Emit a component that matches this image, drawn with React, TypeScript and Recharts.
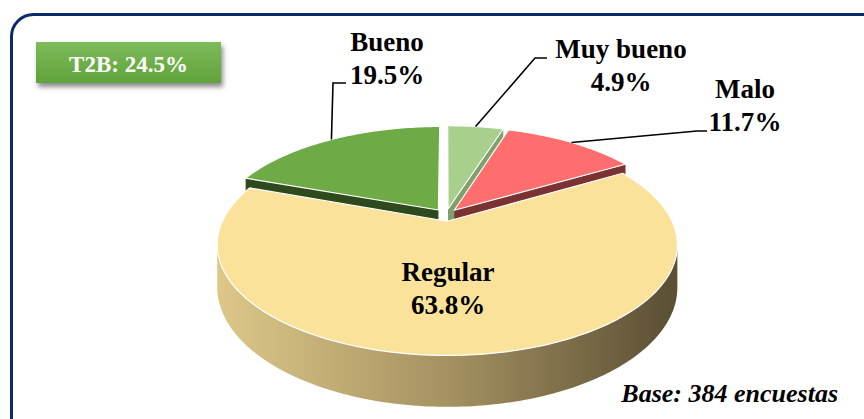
import React from 'react';
import { PieChart, Pie } from 'recharts';

const categories = ['Bueno', 'Muy bueno', 'Malo', 'Regular'];
const shares = [19.5, 4.9, 11.7, 63.8];
const t2bShare = 24.5;
const baseCount = 384;

const data = categories.map((name, i) => ({ name, value: shares[i] }));
const total = shares.reduce((s, v) => s + v, 0);
// Bueno ends at 12 o'clock, so Regular (front slice) is painted last
const START = 90 + (360 * shares[0]) / total;

const TOP: Record<string, string> = {
    Bueno: '#6eab46',
    'Muy bueno': '#a8cf8c',
    Malo: '#ff6e6e',
    Regular: '#fae29a',
};
const SIDE: Record<string, string> = {
    Bueno: '#2e4a1c',
    'Muy bueno': '#80a06a',
    Malo: '#7a3232',
    Regular: 'url(#wallRegular)',
};

// label text + leader layout
const LABELS: Record<string, { x: number; y: number; elbow?: [number, number]; end?: number }> = {
    Bueno: { x: 387, y: 51, elbow: [333, 83], end: 346 },
    'Muy bueno': { x: 621, y: 58, elbow: [535, 58], end: 547 },
    Malo: { x: 745, y: 98, elbow: [697, 131], end: 707 },
    Regular: { x: 448, y: 281 },
};

const FONT = 'Liberation Serif, Tinos, Times New Roman, DejaVu Serif, serif';

// fake 3D: tilted disc with a bit of perspective
const G = { cx: 446, cy: 215, rx: 222, ry: 103, persp: 0.21, depth: 40, explode: 0.06 };
const rad = (d: number) => (d * Math.PI) / 180;

function pt(phi: number, r: number, off: number[], h = 0) {
    const u = off[0] + r * Math.sin(rad(phi));
    const v = off[1] + r * Math.cos(rad(phi));
    const w = 1 + G.persp * v;
    return [G.cx + (G.rx * u) / w, G.cy - (G.ry * v) / w + (G.depth * h) / w];
}

function arc(a: number, b: number, off: number[], h: number) {
    const n = Math.max(2, Math.ceil(Math.abs(b - a)));
    const out: number[][] = [];
    for (let i = 0; i <= n; i++) out.push(pt(a + ((b - a) * i) / n, 1, off, h));
    return out;
}

const toPath = (pts: number[][]) =>
    'M' + pts.map((p) => `${p[0].toFixed(2)},${p[1].toFixed(2)}`).join('L') + 'Z';

function renderSlice(props: any) {
    const { startAngle, endAngle, name, value } = props;
    const a = 90 - Math.max(startAngle, endAngle);
    const b = 90 - Math.min(startAngle, endAngle);
    const m = (a + b) / 2;
    const off = [G.explode * Math.sin(rad(m)), G.explode * Math.cos(rad(m))];
    const side = SIDE[name];
    const top = TOP[name];

    const faces: React.ReactNode[] = [];
    const cutFace = (phi: number, key: string) => {
        const p0 = pt(0, 0, off, 0);
        const p1 = pt(phi, 1, off, 0);
        const p2 = pt(phi, 1, off, 1);
        const p3 = pt(0, 0, off, 1);
        faces.push(<path key={key} d={toPath([p0, p1, p2, p3])} fill={side} stroke="none" />);
    };
    if (Math.sin(rad(a)) < -0.02) cutFace(a, 'ca');
    if (Math.sin(rad(b)) > 0.02) cutFace(b, 'cb');

    // outer wall: only where it faces the viewer
    const lo = 90 + (Math.asin(G.persp) * 180) / Math.PI;
    const hi = 270 - (Math.asin(G.persp) * 180) / Math.PI;
    for (const k of [-360, 0, 360]) {
        const s = Math.max(a, lo + k);
        const e = Math.min(b, hi + k);
        if (e > s) {
            const pts = [...arc(s, e, off, 0), ...arc(s, e, off, 1).reverse()];
            faces.push(<path key={'w' + k} d={toPath(pts)} fill={side} stroke="none" />);
        }
    }

    const topPts = [pt(0, 0, off, 0), ...arc(a, b, off, 0)];
    const lab = LABELS[name];
    const anchor = pt(m, 1, off, 0);

    return (
        <g key={name}>
            {faces}
            <path d={toPath(topPts)} fill={top} stroke="#ffffff" strokeWidth={1.2} strokeLinejoin="round" />
            {lab.elbow && (
                <polyline
                    points={`${anchor[0]},${anchor[1]} ${lab.elbow[0]},${lab.elbow[1]} ${lab.end},${lab.elbow[1]}`}
                    fill="none"
                    stroke="#000000"
                    strokeWidth={1.6}
                />
            )}
            <text
                x={lab.x}
                y={lab.y}
                textAnchor="middle"
                style={{ fontFamily: FONT, fontWeight: 'bold', fontSize: 27 }}
                fill="#000000"
            >
                <tspan x={lab.x} y={lab.y}>{name}</tspan>
                <tspan x={lab.x} y={lab.y + 33}>{value.toFixed(1)}%</tspan>
            </text>
        </g>
    );
}

export default function App() {
    return (
        <div style={{ position: 'absolute', left: 0, top: 0, width: 864, height: 419, background: '#ffffff' }}>
            <svg width={864} height={419} style={{ position: 'absolute', left: 0, top: 0 }}>
                <defs>
                    <linearGradient id="wallRegular" gradientUnits="userSpaceOnUse" x1={220} y1={0} x2={670} y2={0}>
                        <stop offset="0" stopColor="#dcc788" />
                        <stop offset="0.5" stopColor="#a69262" />
                        <stop offset="1" stopColor="#5c5035" />
                    </linearGradient>
                    <linearGradient id="t2bGrad" x1="0" y1="0" x2="0" y2="1">
                        <stop offset="0" stopColor="#7dbb5b" />
                        <stop offset="1" stopColor="#60a23a" />
                    </linearGradient>
                    <filter id="t2bShadow" x="-20%" y="-30%" width="140%" height="170%">
                        <feDropShadow dx="2" dy="4" stdDeviation="2.5" floodColor="#000000" floodOpacity="0.45" />
                    </filter>
                </defs>
                <rect x={11.5} y={14.5} width={900} height={450} rx={22} fill="none" stroke="#0c2a6b" strokeWidth={3} />
                <rect x={36} y={42} width={185} height={41} fill="url(#t2bGrad)" filter="url(#t2bShadow)" />
                <text x={128.5} y={72} textAnchor="middle" style={{ fontFamily: FONT, fontWeight: 'bold', fontSize: 23 }} fill="#ffffff">
                    T2B: {t2bShare.toFixed(1)}%
                </text>
                <text x={838} y={402} textAnchor="end" style={{ fontFamily: FONT, fontWeight: 'bold', fontStyle: 'italic', fontSize: 26 }} fill="#000000">
                    Base: {baseCount} encuestas
                </text>
            </svg>
            <div style={{ position: 'absolute', left: 0, top: 0 }}>
                <PieChart width={864} height={419} margin={{ top: 0, right: 0, bottom: 0, left: 0 }}>
                    <Pie
                        data={data}
                        dataKey="value"
                        nameKey="name"
                        cx={G.cx}
                        cy={G.cy}
                        outerRadius={100}
                        startAngle={START}
                        endAngle={START - 360}
                        fill="none"
                        stroke="none"
                        label={renderSlice}
                        labelLine={false}
                        isAnimationActive={false}
                    />
                </PieChart>
            </div>
        </div>
    );
}
